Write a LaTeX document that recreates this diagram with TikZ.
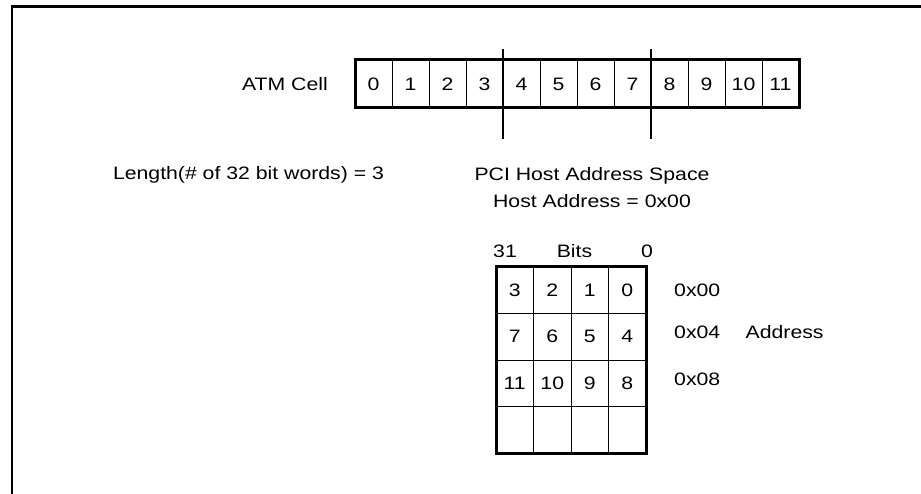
\documentclass[tikz,border=0pt]{standalone}
\usepackage{fontspec}
\setmainfont{Liberation Sans}[FakeStretch=1.18]
\usetikzlibrary{positioning}
\tikzset{
  atmcell/.style={rectangle,draw,line width=1pt,minimum width=37pt,minimum height=48pt,inner sep=0pt,outer sep=0pt},
  wordcell/.style={rectangle,draw,line width=1pt,minimum width=37.5pt,minimum height=46.5pt,inner sep=0pt,outer sep=0pt},
  lbl/.style={inner sep=0pt},
  outline/.style={line width=3pt},
  marker/.style={line width=1.5pt},
}

\begin{document}
\begin{tikzpicture}[x=1pt,y=-1pt,font=\fontsize{18}{20}\selectfont]
  \useasboundingbox (0,0) rectangle (921,494);
  \draw[line width=2.5pt] (921,6.5) -| (12,494);
  % ATM cell bytes
  \foreach \i in {0,...,11}
    \node[atmcell] (c\i) at (373.5+37*\i,84) {\i};
  \draw[outline] (c0.north west) rectangle (c11.south east);
  \draw[marker] ([yshift=11pt]c3.north east) -- ([yshift=-31pt]c3.south east);
  \draw[marker] ([yshift=11pt]c7.north east) -- ([yshift=-31pt]c7.south east);
  \node[lbl,left=27pt of c0] (atm) {ATM Cell};
  \node[lbl,anchor=base] (len) at (248.5,179.5) {Length(\# of 32 bit words) = 3};
  \node[lbl,anchor=base] (pci) at (592,180.5) {PCI Host Address Space};
  \node[lbl,anchor=base] (host) at (592,207.5) {Host Address = 0x00};
  % host memory, one word per row
  \foreach \r in {0,...,3}
    \foreach \c in {0,...,3} {
      \pgfmathtruncatemacro\byte{4*\r+3-\c}
      \node[wordcell] (w\r\c) at (514.75+37.5*\c,290.25+46.5*\r) {\ifnum\r<3 \byte\fi};
    }
  \draw[outline] (w00.north west) rectangle (w33.south east);
  \node[lbl,anchor=base] (hi) at (505,257.5) {31};
  \node[lbl,anchor=base] (bits) at (574.5,257.5) {Bits};
  \node[lbl,anchor=base] (lo) at (647,257.5) {0};
  \node[lbl,right=28pt of w03] (a0) {0x00};
  \node[lbl,anchor=west] (a1) at (674,332) {0x04};
  \node[lbl,anchor=west] (a2) at (674,379) {0x08};
  \node[lbl,right=25pt of a1] (addr) {Address};
\end{tikzpicture}
\end{document}
